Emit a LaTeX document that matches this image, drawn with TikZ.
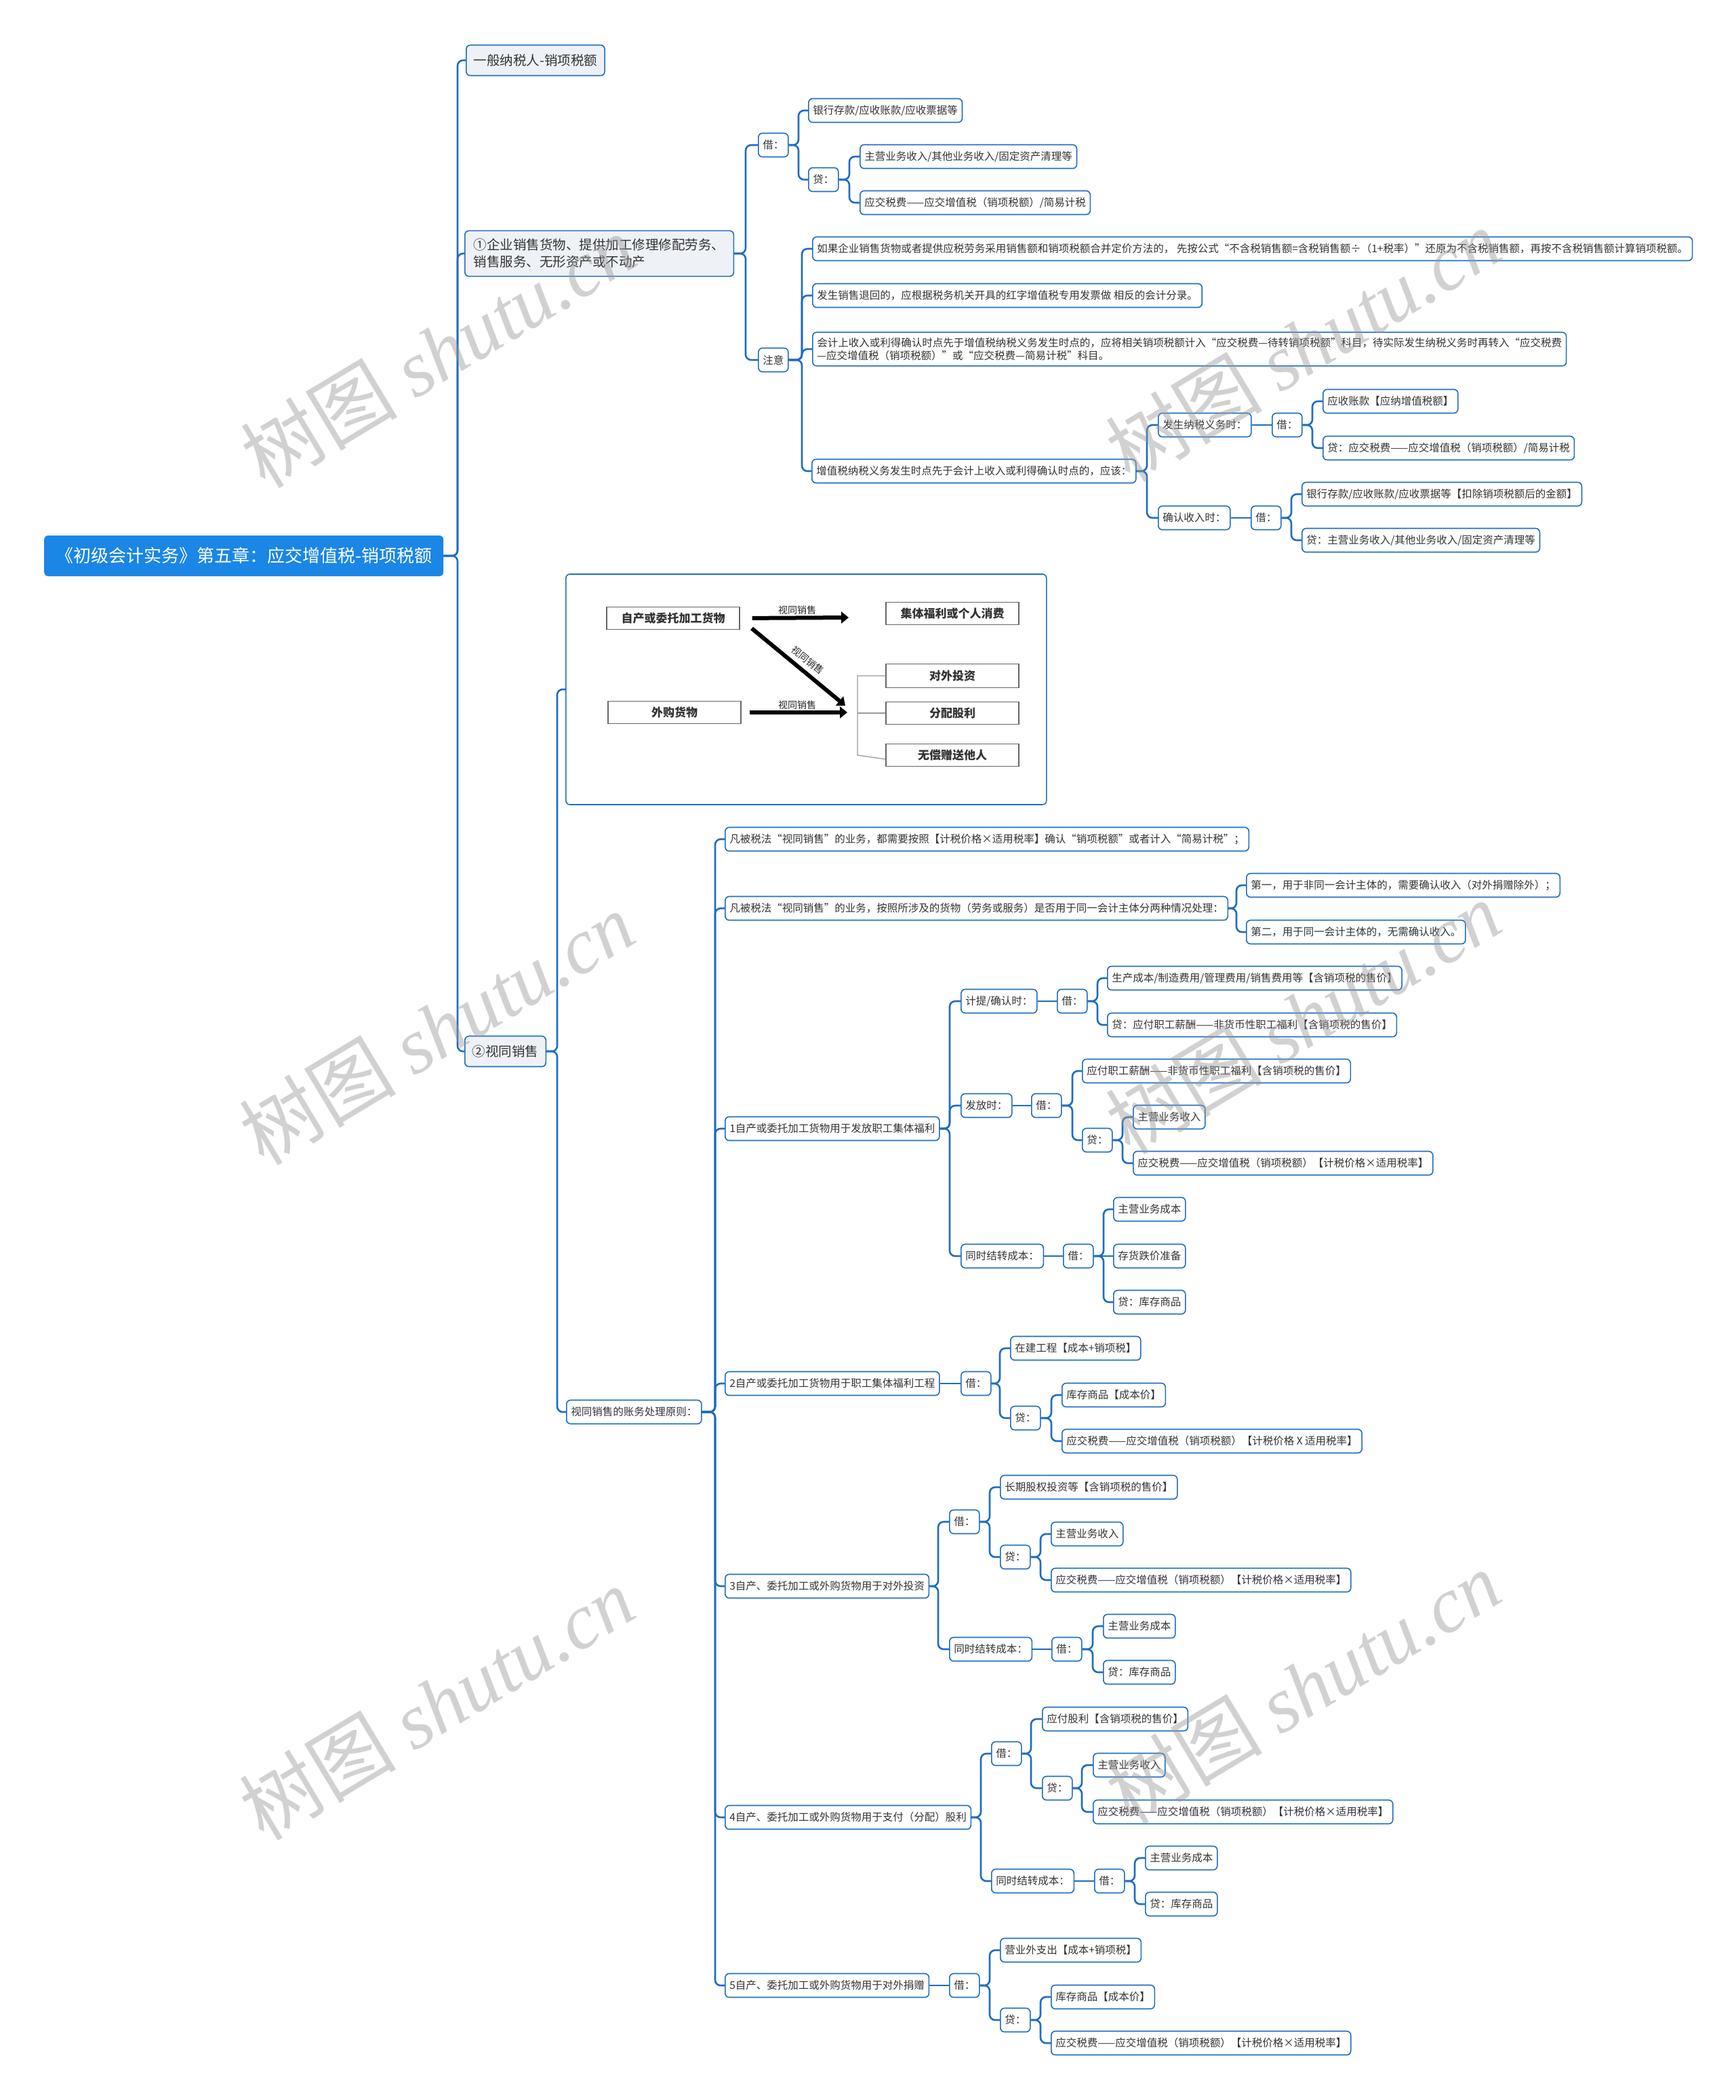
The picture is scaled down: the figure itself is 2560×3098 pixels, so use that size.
\documentclass[tikz,border=0pt]{standalone}
\usepackage{fontspec}
\setmainfont{Noto Sans CJK SC}
\newfontfamily\wmlatin{Liberation Serif}
\usetikzlibrary{arrows.meta,calc}
\definecolor{lb}{HTML}{1F6DBF}
\definecolor{rb}{HTML}{1A86E6}
\definecolor{l1f}{HTML}{EEF2F6}
\definecolor{txt}{HTML}{333333}
\tikzset{
 base/.style={anchor=west, text=txt, rounded corners=6pt},
 nd/.style={base, draw=lb, line width=1.6pt, fill=white, font=\fontsize{15.5}{19}\selectfont, inner xsep=6.5pt, inner ysep=0pt, minimum height=35pt},
 l1/.style={base, draw=lb, line width=1.6pt, fill=l1f, font=\fontsize{19.5}{25}\selectfont, inner xsep=11pt, inner ysep=0pt, minimum height=45pt},
 rootn/.style={base, fill=rb, text=white, font=\fontsize{26}{30}\selectfont, inner xsep=17pt, minimum height=60pt},
 conn/.style={draw=lb, line width=2.6pt, rounded corners=8pt},
 ib/.style={draw=black!60, line width=1.3pt, fill=white, minimum width=196pt, minimum height=33pt, font=\fontsize{17}{20}\selectfont\bfseries, text=black!80, anchor=center},
 bigarr/.style={line width=6pt, -{Triangle[length=11pt,width=17pt]}, black},
 lbl/.style={font=\fontsize{14}{16}\selectfont, text=black!85},
 wm/.style={font=\fontsize{116}{120}\selectfont, text=black!40, opacity=0.45},
}
\newcommand\br[3]{%
  \coordinate (tmpS) at (#2,0);
  \foreach \c in {#3}{\draw[conn] (#1.east) -- (#1.east -| tmpS) |- (\c.west);}%
}
\newcommand\lk[2]{\draw[conn] (#1.east) -- (#2.west);}
\begin{document}
\begin{tikzpicture}[x=1pt,y=-1pt]
\fill[white] (0,0) rectangle (2560,3098);
\useasboundingbox (0,0) rectangle (2560,3098);

% ---------- nodes ----------
\node[rootn] (root) at (65,820) {《初级会计实务》第五章：应交增值税-销项税额};
\node[l1] (N1) at (687,89) {一般纳税人-销项税额};
\node[l1, align=left, inner ysep=12pt, inner xsep=13pt] (N2) at (685,374) {①企业销售货物、提供加工修理修配劳务、\\销售服务、无形资产或不动产};
\node[l1] (N3) at (685,1551) {②视同销售};

\node[nd] (j1) at (1118,214) {借：};
\node[nd] (zy) at (1118,531) {注意};
\node[nd] (a1) at (1192,163) {银行存款/应收账款/应收票据等};
\node[nd] (d1) at (1192,265) {贷：};
\node[nd] (a2) at (1268,231) {主营业务收入/其他业务收入/固定资产清理等};
\node[nd] (a3) at (1268,299) {应交税费——应交增值税（销项税额）/简易计税};

\node[nd] (n1) at (1198,367) {如果企业销售货物或者提供应税劳务采用销售额和销项税额合并定价方法的， 先按公式“不含税销售额=含税销售额÷（1+税率）”还原为不含税销售额，再按不含税销售额计算销项税额。};
\node[nd] (n2) at (1198,436) {发生销售退回的，应根据税务机关开具的红字增值税专用发票做 相反的会计分录。};
\node[nd, align=left, inner ysep=8pt] (n3) at (1198,515) {会计上收入或利得确认时点先于增值税纳税义务发生时点的，应将相关销项税额计入“应交税费—待转销项税额”科目，待实际发生纳税义务时再转入“应交税费\\—应交增值税（销项税额）”或“应交税费—简易计税”科目。};
\node[nd] (n4) at (1197,695) {增值税纳税义务发生时点先于会计上收入或利得确认时点的，应该：};
\node[nd] (f1) at (1708,627) {发生纳税义务时：};
\node[nd] (f2) at (1708,764) {确认收入时：};
\node[nd] (fj) at (1876,627) {借：};
\node[nd] (qj) at (1845,764) {借：};
\node[nd] (b1) at (1951,592) {应收账款【应纳增值税额】};
\node[nd] (b2) at (1951,661) {贷：应交税费——应交增值税（销项税额）/简易计税};
\node[nd] (b3) at (1920,729) {银行存款/应收账款/应收票据等【扣除销项税额后的金额】};
\node[nd] (b4) at (1920,797) {贷：主营业务收入/其他业务收入/固定资产清理等};

% image box
\node[base, draw=lb, line width=1.6pt, fill=white, minimum width=709pt, minimum height=340pt, inner sep=0pt] (img) at (834,1017) {};
\node[ib] (ib1) at (993,912) {自产或委托加工货物};
\node[ib] (ib2) at (995,1051) {外购货物};
\node[ib] (ib3) at (1405,905) {集体福利或个人消费};
\node[ib, minimum height=35pt] (ib4) at (1405,997) {对外投资};
\node[ib] (ib5) at (1405,1052) {分配股利};
\node[ib] (ib6) at (1405,1114) {无偿赠送他人};
\coordinate (a1e) at (1252,911);
\coordinate (a2s) at (1109,927);
\coordinate (a2e) at (1247,1041);
\coordinate (a3e) at (1250,1051);
\draw[bigarr, shorten <=18pt] (ib1.east) -- (a1e);
\draw[bigarr] (a2s) -- (a2e);
\draw[bigarr, shorten <=12pt] (ib2.east) -- (a3e);
\node[lbl] (l1) at (1176,900) {视同销售};
\node[lbl, rotate=-39] (l2) at (1192,974) {视同销售};
\node[lbl] (l3) at (1176,1040) {视同销售};
\coordinate (brk) at (1265,0);
\draw[black!40, line width=1.3pt] (ib4.west) -- (ib4.west -| brk) -- (ib6.west -| brk) -- ([yshift=-6pt]ib6.west);
\draw[black!40, line width=1.3pt] (ib5.west) -- (ib5.west -| brk);

\node[nd] (pr) at (835,2083) {视同销售的账务处理原则：};
\node[nd] (p1) at (1069,1238) {凡被税法“视同销售”的业务，都需要按照【计税价格×适用税率】确认“销项税额”或者计入“简易计税”；};
\node[nd] (p2) at (1069,1340) {凡被税法“视同销售”的业务，按照所涉及的货物（劳务或服务）是否用于同一会计主体分两种情况处理：};
\node[nd] (p2a) at (1838,1306) {第一，用于非同一会计主体的，需要确认收入（对外捐赠除外）；};
\node[nd] (p2b) at (1838,1375) {第二，用于同一会计主体的，无需确认收入。};

\node[nd] (s1) at (1069,1665) {1自产或委托加工货物用于发放职工集体福利};
\node[nd] (s1a) at (1417,1477) {计提/确认时：};
\node[nd] (s1aj) at (1559,1477) {借：};
\node[nd] (s1a1) at (1633,1443) {生产成本/制造费用/管理费用/销售费用等【含销项税的售价】};
\node[nd] (s1a2) at (1633,1512) {贷：应付职工薪酬——非货币性职工福利【含销项税的售价】};
\node[nd] (s1b) at (1417,1631) {发放时：};
\node[nd] (s1bj) at (1521,1631) {借：};
\node[nd] (s1b1) at (1596,1580) {应付职工薪酬——非货币性职工福利【含销项税的售价】};
\node[nd] (s1bd) at (1596,1682) {贷：};
\node[nd] (s1b2) at (1671,1648) {主营业务收入};
\node[nd] (s1b3) at (1671,1716) {应交税费——应交增值税（销项税额）【计税价格×适用税率】};
\node[nd] (s1c) at (1417,1853) {同时结转成本：};
\node[nd] (s1cj) at (1568,1853) {借：};
\node[nd] (s1c1) at (1642,1784) {主营业务成本};
\node[nd] (s1c2) at (1642,1853) {存货跌价准备};
\node[nd] (s1c3) at (1642,1921) {贷：库存商品};

\node[nd] (s2) at (1069,2041) {2自产或委托加工货物用于职工集体福利工程};
\node[nd] (s2j) at (1417,2041) {借：};
\node[nd] (s2a) at (1490,1989) {在建工程【成本+销项税】};
\node[nd] (s2d) at (1490,2092) {贷：};
\node[nd] (s2b) at (1566,2058) {库存商品【成本价】};
\node[nd] (s2c) at (1566,2126) {应交税费——应交增值税（销项税额）【计税价格 X 适用税率】};

\node[nd] (s3) at (1069,2340) {3自产、委托加工或外购货物用于对外投资};
\node[nd] (s3j) at (1400,2245) {借：};
\node[nd] (s3a) at (1475,2194) {长期股权投资等【含销项税的售价】};
\node[nd] (s3d) at (1475,2297) {贷：};
\node[nd] (s3b) at (1550,2263) {主营业务收入};
\node[nd] (s3e) at (1550,2331) {应交税费——应交增值税（销项税额）【计税价格×适用税率】};
\node[nd] (s3c) at (1400,2433) {同时结转成本：};
\node[nd] (s3cj) at (1551,2433) {借：};
\node[nd] (s3c1) at (1627,2399) {主营业务成本};
\node[nd] (s3c2) at (1627,2467) {贷：库存商品};

\node[nd] (s4) at (1069,2681) {4自产、委托加工或外购货物用于支付（分配）股利};
\node[nd] (s4j) at (1462,2587) {借：};
\node[nd] (s4a) at (1537,2536) {应付股利【含销项税的售价】};
\node[nd] (s4d) at (1537,2638) {贷：};
\node[nd] (s4b) at (1612,2604) {主营业务收入};
\node[nd] (s4e) at (1612,2673) {应交税费——应交增值税（销项税额）【计税价格×适用税率】};
\node[nd] (s4c) at (1462,2775) {同时结转成本：};
\node[nd] (s4cj) at (1614,2775) {借：};
\node[nd] (s4c1) at (1689,2741) {主营业务成本};
\node[nd] (s4c2) at (1689,2809) {贷：库存商品};

\node[nd] (s5) at (1069,2929) {5自产、委托加工或外购货物用于对外捐赠};
\node[nd] (s5j) at (1400,2929) {借：};
\node[nd] (s5a) at (1475,2877) {营业外支出【成本+销项税】};
\node[nd] (s5d) at (1475,2980) {贷：};
\node[nd] (s5b) at (1550,2946) {库存商品【成本价】};
\node[nd] (s5e) at (1550,3014) {应交税费——应交增值税（销项税额）【计税价格×适用税率】};

% ---------- connectors ----------
\br{root}{675}{N1,N2,N3}
\br{N2}{1100}{j1,zy}
\br{j1}{1178}{a1,d1}
\br{d1}{1253}{a2,a3}
\br{zy}{1183}{n1,n2,n3,n4}
\br{n4}{1692}{f1,f2}
\lk{f1}{fj}
\lk{f2}{qj}
\br{fj}{1936}{b1,b2}
\br{qj}{1905}{b3,b4}
\br{N3}{822}{img,pr}
\br{pr}{1055}{p1,p2,s1,s2,s3,s4,s5}
\br{p2}{1824}{p2a,p2b}
\br{s1}{1401}{s1a,s1b,s1c}
\lk{s1a}{s1aj}
\br{s1aj}{1619}{s1a1,s1a2}
\lk{s1b}{s1bj}
\br{s1bj}{1582}{s1b1,s1bd}
\br{s1bd}{1656}{s1b2,s1b3}
\lk{s1c}{s1cj}
\br{s1cj}{1628}{s1c1,s1c3}
\lk{s1cj}{s1c2}
\lk{s2}{s2j}
\br{s2j}{1475}{s2a,s2d}
\br{s2d}{1551}{s2b,s2c}
\br{s3}{1384}{s3j,s3c}
\br{s3j}{1460}{s3a,s3d}
\br{s3d}{1535}{s3b,s3e}
\lk{s3c}{s3cj}
\br{s3cj}{1612}{s3c1,s3c2}
\br{s4}{1447}{s4j,s4c}
\br{s4j}{1521}{s4a,s4d}
\br{s4d}{1596}{s4b,s4e}
\lk{s4c}{s4cj}
\br{s4cj}{1674}{s4c1,s4c2}
\lk{s5}{s5j}
\br{s5j}{1460}{s5a,s5d}
\br{s5d}{1535}{s5b,s5e}

% ---------- watermarks ----------
\foreach \wx/\wy [count=\i] in {646/518,1922/509,644/1517,1922/1501,644/2513,1922/2489}{
  \node[wm, rotate=31] (wm\i) at (\wx,\wy) {树图 {\wmlatin\itshape shutu.cn}};
}
\end{tikzpicture}
\end{document}
